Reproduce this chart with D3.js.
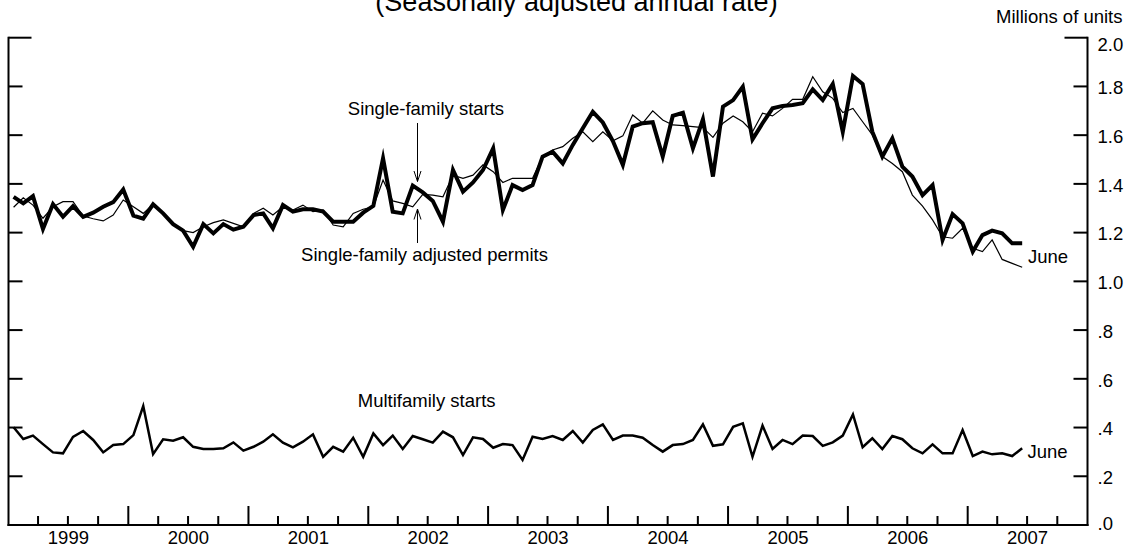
<!DOCTYPE html>
<html><head><meta charset="utf-8">
<script src="https://cdn.jsdelivr.net/npm/d3@7"></script>
<style>
html,body{margin:0;padding:0;background:#fff;}
svg{display:block;font-family:"Liberation Sans",Arial,Helvetica,sans-serif;}
</style></head>
<body>
<svg id="chart" width="1128" height="547"></svg>
<script>
// ---- data (millions of units, SAAR), monthly Jan 1999 - Jun 2007 ----
const startMonth = new Date(1999, 0, 1);
const endMonth = new Date(2007, 6, 1); // exclusive
const singleFamilyStarts = [
1.347,1.320,1.350,1.215,1.317,1.265,1.309,1.265,1.282,1.306,1.325,1.377,
1.270,1.257,1.316,1.279,1.235,1.208,1.142,1.235,1.197,1.235,1.212,1.224,
1.272,1.279,1.218,1.313,1.286,1.296,1.296,1.286,1.245,1.245,1.245,1.282,
1.310,1.505,1.286,1.279,1.393,1.365,1.330,1.245,1.457,1.368,1.406,1.457,
1.546,1.293,1.395,1.375,1.395,1.512,1.532,1.484,1.560,1.628,1.696,1.652,
1.575,1.478,1.635,1.649,1.653,1.512,1.679,1.692,1.546,1.665,1.430,1.717,
1.744,1.799,1.583,1.649,1.710,1.720,1.724,1.731,1.788,1.744,1.810,1.614,
1.843,1.810,1.614,1.512,1.587,1.471,1.430,1.354,1.395,1.170,1.276,1.238,
1.122,1.190,1.208,1.197,1.156,1.156];
const singleFamilyPermits = [
1.304,1.343,1.313,1.259,1.306,1.327,1.327,1.268,1.257,1.248,1.272,1.334,
1.306,1.279,1.316,1.279,1.238,1.208,1.200,1.224,1.241,1.252,1.238,1.224,
1.279,1.300,1.272,1.306,1.293,1.313,1.286,1.293,1.231,1.224,1.279,1.296,
1.306,1.416,1.330,1.320,1.306,1.357,1.354,1.347,1.436,1.423,1.436,1.478,
1.450,1.406,1.423,1.423,1.423,1.512,1.539,1.553,1.587,1.614,1.573,1.614,
1.577,1.597,1.683,1.649,1.700,1.662,1.642,1.639,1.635,1.631,1.591,1.649,
1.679,1.655,1.614,1.690,1.679,1.710,1.747,1.747,1.840,1.778,1.751,1.693,
1.710,1.655,1.601,1.512,1.484,1.450,1.354,1.309,1.252,1.183,1.177,1.218,
1.136,1.122,1.170,1.090,1.074,1.058];
const multifamilyStarts = [
0.401,0.353,0.367,0.332,0.298,0.294,0.362,0.386,0.349,0.298,0.328,0.332,
0.369,0.488,0.291,0.352,0.346,0.360,0.321,0.312,0.312,0.315,0.339,0.305,
0.321,0.342,0.372,0.338,0.319,0.342,0.372,0.280,0.321,0.301,0.358,0.280,
0.376,0.328,0.367,0.312,0.365,0.352,0.338,0.383,0.360,0.287,0.360,0.353,
0.317,0.332,0.328,0.267,0.362,0.353,0.365,0.349,0.386,0.338,0.390,0.413,
0.349,0.367,0.367,0.358,0.328,0.301,0.328,0.332,0.349,0.413,0.325,0.331,
0.403,0.417,0.280,0.408,0.312,0.349,0.332,0.367,0.365,0.325,0.339,0.367,
0.454,0.319,0.356,0.312,0.365,0.352,0.315,0.294,0.331,0.294,0.294,0.390,
0.283,0.301,0.290,0.294,0.283,0.315];
const yearLabels = ["1999","2000","2001","2002","2003","2004","2005","2006","2007"];
const yTickValues = [0,0.2,0.4,0.6,0.8,1.0,1.2,1.4,1.6,1.8,2.0];
const yTickLabels = [".0",".2",".4",".6",".8","1.0","1.2","1.4","1.6","1.8","2.0"];

// ---- layout ----
const svg = d3.select("#chart");
const FS = 18.5;
const x = d3.scaleTime().domain([new Date(1999,0,1), new Date(2008,0,1)]).range([8.5, 1087.5]);
const y = d3.scaleLinear().domain([0, 2]).range([525, 37.7]);
const months = d3.timeMonth.range(startMonth, endMonth);
const mid = d => (x(d) + x(d3.timeMonth.offset(d, 1))) / 2;

// title & units
svg.append("text").attr("x", 576.5).attr("y", 11).attr("text-anchor", "middle")
  .attr("font-size", 27).text("(Seasonally adjusted annual rate)");
svg.append("text").attr("x", 1122.5).attr("y", 23).attr("text-anchor", "end")
  .attr("font-size", FS).text("Millions of units");

// axes frame
const axisG = svg.append("g").attr("stroke", "#000").attr("stroke-width", 2).attr("fill", "none");
axisG.append("line").attr("x1", x.range()[0]).attr("x2", x.range()[0]).attr("y1", y(2)-1).attr("y2", y(0)+1);
axisG.append("line").attr("x1", x.range()[1]).attr("x2", x.range()[1]).attr("y1", y(2)-1).attr("y2", y(0)+1);
axisG.append("line").attr("x1", x.range()[0]-1).attr("x2", x.range()[1]+1).attr("y1", y(0)).attr("y2", y(0));

// y ticks (both sides, inward)
yTickValues.forEach((v, i) => {
  const len = v === 2 ? 23 : 14;
  if (v === 0) return;
  axisG.append("line").attr("x1", x.range()[0]).attr("x2", x.range()[0] + len).attr("y1", y(v)).attr("y2", y(v));
  axisG.append("line").attr("x1", x.range()[1]).attr("x2", x.range()[1] - len).attr("y1", y(v)).attr("y2", y(v));
});
// y tick labels on right
yTickValues.forEach((v, i) => {
  let dy = 7.8;
  if (v === 2) dy = 13;
  if (v === 0) dy = 5;
  svg.append("text").attr("x", 1097.5).attr("y", y(v) + dy).attr("font-size", FS).text(yTickLabels[i]);
});

// x ticks: quarters (minor) and years (major)
const quarters = d3.timeMonth.every(3).range(new Date(1999,3,1), new Date(2008,0,1));
quarters.forEach(d => {
  const major = d.getMonth() === 0;
  axisG.append("line").attr("x1", x(d)).attr("x2", x(d))
    .attr("y1", y(0)).attr("y2", y(0) - (major ? 19 : 9));
});
yearLabels.forEach(lab => {
  const yr = +lab;
  const cx = (x(new Date(yr,0,1)) + x(new Date(yr+1,0,1))) / 2;
  svg.append("text").attr("x", cx).attr("y", 544).attr("text-anchor", "middle")
    .attr("font-size", FS).text(lab);
});

// series lines
const line = vals => d3.line().x((d, i) => mid(months[i])).y(d => y(d))(vals);
svg.append("path").attr("d", line(singleFamilyPermits)).attr("fill", "none")
  .attr("stroke", "#000").attr("stroke-width", 1.2);
svg.append("path").attr("d", line(singleFamilyStarts)).attr("fill", "none")
  .attr("stroke", "#000").attr("stroke-width", 4).attr("stroke-miterlimit", 6);
svg.append("path").attr("d", line(multifamilyStarts)).attr("fill", "none")
  .attr("stroke", "#000").attr("stroke-width", 2.5);

// annotations
svg.append("text").attr("x", 426).attr("y", 115).attr("text-anchor", "middle")
  .attr("font-size", FS).text("Single-family starts");
svg.append("text").attr("x", 424.5).attr("y", 261).attr("text-anchor", "middle")
  .attr("font-size", FS).text("Single-family adjusted permits");
svg.append("text").attr("x", 426.7).attr("y", 407).attr("text-anchor", "middle")
  .attr("font-size", FS).text("Multifamily starts");
svg.append("text").attr("x", 1028).attr("y", 263).attr("font-size", FS).text("June");
svg.append("text").attr("x", 1027.5).attr("y", 458).attr("font-size", FS).text("June");

// arrows
const arr = svg.append("g").attr("stroke", "#000").attr("stroke-width", 1).attr("fill", "none");
const ax = 417.5;
arr.append("line").attr("x1", ax).attr("x2", ax).attr("y1", 123).attr("y2", 181.5);
arr.append("path").attr("d", `M${ax-3.5},171 L${ax},181.5 L${ax+3.5},171`);
arr.append("line").attr("x1", ax).attr("x2", ax).attr("y1", 243).attr("y2", 209);
arr.append("path").attr("d", `M${ax-3.5},219.5 L${ax},209 L${ax+3.5},219.5`);
</script>
</body></html>
